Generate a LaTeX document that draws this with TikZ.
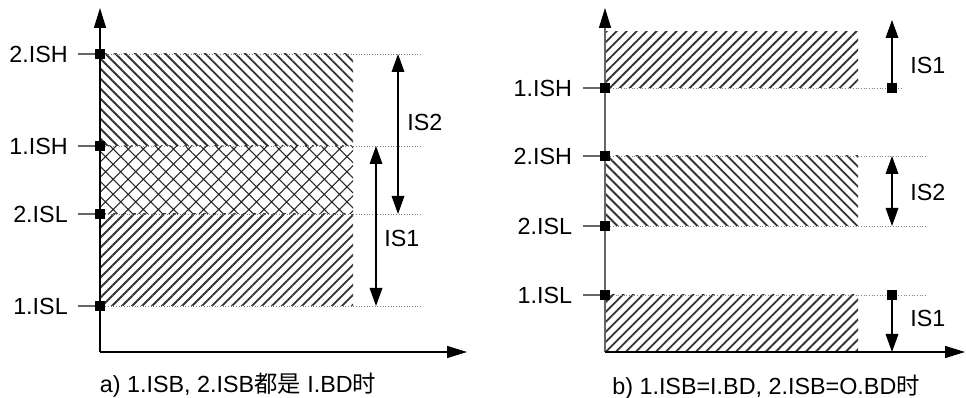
\documentclass[tikz,border=0pt]{standalone}
\usepackage{fontspec}
\setmainfont{Liberation Sans}
\newfontfamily\cjk{Noto Sans CJK SC}
\usetikzlibrary{arrows.meta,positioning,patterns.meta}

\tikzset{
  axis/.style={line width=1.1pt, -{Triangle[length=15pt,width=9pt,color=black]}},
  span/.style={line width=0.9pt, {Triangle[length=13.5pt,width=9.5pt]}-{Triangle[length=13.5pt,width=9.5pt]}},
  rise/.style={line width=0.9pt, -{Triangle[length=13.5pt,width=9.5pt]}},
  level/.style={gray, line width=0.6pt, dash pattern=on 0.7pt off 1.3pt},
  tickmark/.style={gray!80!black, line width=1pt},
  marker/.style={fill=black, inner sep=0pt, minimum size=8pt},
  lbl/.style={font=\fontsize{17.5}{21}\selectfont, inner sep=0pt},
  hatchNE/.style={pattern={Lines[angle=45,distance=5.3pt,line width=1.4pt]}, pattern color=black!80},
  hatchNW/.style={pattern={Lines[angle=-45,distance=5.3pt,line width=1.4pt]}, pattern color=black!80},
  hatchX/.style={pattern={Hatch[angle=45,distance=8pt,line width=0.8pt]}, pattern color=black!85},
}

\begin{document}
\begin{tikzpicture}[x=0.75pt, y=-0.75pt]
    \useasboundingbox (0,0) rectangle (966,398);

    % ---- a) both hysteresis bands in the same direction ----
    \coordinate (a2h) at (100,54);
    \coordinate (a1h) at (100,146);
    \coordinate (a2l) at (100,214);
    \coordinate (a1l) at (100,306);
    \coordinate (aO)  at (100,352);

    % hatched bands (overlap cross-hatched)
    \fill[hatchNW] (100,54) rectangle (353,146);
    \fill[hatchX]  (100,146) rectangle (353,214);
    \fill[hatchNE] (100,214) rectangle (353,306);

    % dotted level lines
    \foreach \c in {a2h,a1h,a2l,a1l}
      \draw[level] (\c) -- ++(322,0);

    % axes
    \draw[axis] (aO) -- (100,8);
    \draw[axis] (aO) -- (467,352);

    % level ticks and labels
    \foreach \c/\t in {a2h/2.ISH, a1h/1.ISH, a2l/2.ISL, a1l/1.ISL} {
      \draw[tickmark] ([xshift=-16.5pt]\c) -- (\c);
      \node[marker] at (\c) {};
      \node[lbl, anchor=east] at ([xshift=-24pt]\c) {\t};
    }

    % IS2 and IS1 spans
    \coordinate (is2a) at (398,54);
    \coordinate (is2b) at (398,214);
    \draw[span] (is2a) -- (is2b);
    \node[lbl, anchor=west] (is2) at (407,122) {IS2};
    \coordinate (is1a) at (376,146);
    \coordinate (is1b) at (376,306);
    \draw[span] (is1a) -- (is1b);
    \node[lbl, anchor=west] (is1) at (384,238) {IS1};

    \node[lbl] (capa) at (238,385) {a) 1.ISB, 2.ISB{\cjk 都是} I.BD{\cjk 时}};

    % ---- b) opposite directions ----
    \coordinate (b1h) at (605,88);
    \coordinate (b2h) at (605,156);
    \coordinate (b2l) at (605,226);
    \coordinate (b1l) at (605,295);
    \coordinate (bO)  at (605,352);

    \fill[hatchNE] (605,32) rectangle (858,88);
    \fill[hatchNW] (605,156) rectangle (858,226);
    \fill[hatchNE] (605,295) rectangle (858,352);

    \draw[level] (b1h) -- ++(298,0);
    \foreach \c in {b2h,b2l,b1l}
      \draw[level] (\c) -- ++(322,0);

    \draw[axis, draw=black!60] (bO) -- (605,8);
    \draw[axis] (bO) -- (965,352);

    \foreach \c/\t in {b1h/1.ISH, b2h/2.ISH, b2l/2.ISL, b1l/1.ISL} {
      \draw[tickmark] ([xshift=-16.5pt]\c) -- (\c);
      \node[marker] at (\c) {};
      \node[lbl, anchor=east] at ([xshift=-24.5pt]\c) {\t};
    }

    % IS1 upward from 1.ISH
    \node[marker] (u1) at (892,88) {};
    \coordinate (u1t) at (892,20);
    \draw[rise] (u1.center) -- (u1t);
    \node[lbl, anchor=west] (isu) at (910,65) {IS1};

    % IS2 between 2.ISH and 2.ISL
    \coordinate (m2a) at (892,156);
    \coordinate (m2b) at (892,226);
    \draw[span] (m2a) -- (m2b);
    \node[lbl, anchor=west] (ism) at (910,192) {IS2};

    % IS1 downward from 1.ISL
    \node[marker] (d1) at (892,295) {};
    \coordinate (d1t) at (892,352);
    \draw[rise] (d1.center) -- (d1t);
    \node[lbl, anchor=west] (isd) at (910,318) {IS1};

    \node[lbl] (capb) at (766,387) {b) 1.ISB=I.BD, 2.ISB=O.BD{\cjk 时}};
  \end{tikzpicture}
\end{document}
